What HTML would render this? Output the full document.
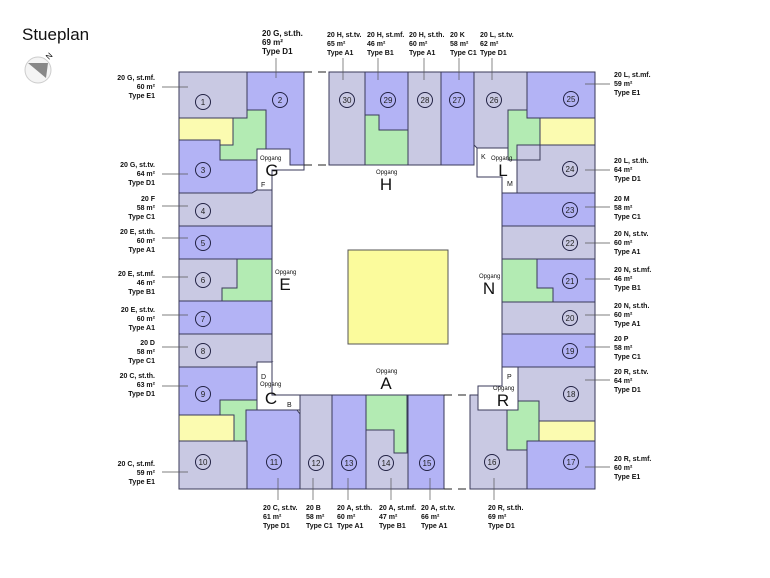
<!DOCTYPE html>
<html><head><meta charset="utf-8"><style>
html,body{margin:0;padding:0;background:#fff;width:770px;height:578px;overflow:hidden}
svg{display:block;font-family:"Liberation Sans",sans-serif}
.l{fill:#c9c9e3;stroke:#3a3a5a;stroke-width:1}
.b{fill:#b3b3f5;stroke:#3a3a5a;stroke-width:1}
.g{fill:#b3ebb3;stroke:#3a3a5a;stroke-width:1}
.y{fill:#fbfbb0;stroke:#3a3a5a;stroke-width:1}
.w{fill:#fff;stroke:#3a3a5a;stroke-width:1}
.t{font-size:7px;font-weight:bold;fill:#111}
.c text{font-size:8px;text-anchor:middle;fill:#222}
.ld{stroke:#555;stroke-width:.7}
.s{font-size:6px;fill:#111}
.big{font-size:17px;fill:#111;text-anchor:middle}
</style></head><body>
<svg width="770" height="578" viewBox="0 0 770 578">
<text x="22" y="40" font-size="17" fill="#111">Stueplan</text>
<circle cx="38" cy="70" r="13" fill="#f4f4f4" stroke="#ccc"/>
<polygon points="28,63 48,63 46,78" fill="#888"/>
<text x="49" y="60" font-size="8" transform="rotate(-45 49 60)">N</text>

<polygon class="l" points="179,72 247,72 247,118 179,118"/>
<polygon class="b" points="247,72 304,72 304,165 290,165 290,149 266,149 266,110 247,110 247,118"/>
<polygon class="y" points="179,118 233,118 233,145 179,145"/>
<polygon class="g" points="233,118 247,118 247,110 266,110 266,149 257,149 257,160 220,160 220,145 233,145"/>
<polygon class="b" points="179,140 220,140 220,160 257,160 257,190 252,193 179,193"/>
<polygon class="w" points="257,149 290,149 290,165 304,165 304,170 272,170 272,190 257,190"/>
<polygon class="l" points="179,193 252,193 257,190 272,190 272,226 179,226"/>
<rect class="b" x="179" y="226" width="93" height="33"/>
<rect class="l" x="179" y="259" width="93" height="42"/>
<polygon class="g" points="237,259 272,259 272,301 222,301 222,288 237,288"/>
<rect class="b" x="179" y="301" width="93" height="33"/>
<polygon class="l" points="179,334 272,334 272,362 265,367 179,367"/>
<polygon class="b" points="179,367 265,367 272,362 257,362 257,410 237,410 237,400 220,400 220,415 179,415"/>
<polygon class="w" points="257,362 272,362 272,395 300,395 300,410 257,410"/>
<polygon class="g" points="220,400 257,400 257,410 246,410 246,441 234,441 234,415 220,415"/>
<rect class="y" x="179" y="415" width="55" height="26"/>
<polygon class="b" points="246,410 297,410 300,414 300,489 247,489 247,441 246,441"/>
<rect class="l" x="179" y="441" width="68" height="48"/>
<polygon class="l" points="300,395 332,395 332,489 300,489"/>
<rect class="b" x="332" y="395" width="34" height="94"/>
<rect class="g" x="366" y="395" width="41" height="58"/>
<polygon class="l" points="366,430 394,430 394,453 408,453 408,489 366,489"/>
<rect class="b" x="408" y="395" width="36" height="94"/>
<polygon class="l" points="470,395 478,395 478,410 507,410 507,450 527,450 527,489 470,489"/>
<polygon class="w" points="478,386 478,410 518,410 518,367 502,367 502,386"/>
<polygon class="l" points="518,367 595,367 595,421 539,421 539,401 518,401"/>
<polygon class="g" points="518,401 539,401 539,441 527,441 527,450 507,450 507,410 518,410"/>
<rect class="y" x="539" y="421" width="56" height="20"/>
<rect class="b" x="527" y="441" width="68" height="48"/>
<polygon class="b" points="502,367 502,334 595,334 595,367 518,367"/>
<rect class="l" x="502" y="302" width="93" height="32"/>
<rect class="b" x="537" y="259" width="58" height="43"/>
<polygon class="g" points="502,259 537,259 537,288 553,288 553,302 502,302"/>
<rect class="l" x="502" y="226" width="93" height="33"/>
<polygon class="b" points="502,193 595,193 595,226 502,226"/>
<polygon class="l" points="517,140 540,140 540,145 595,145 595,193 517,193"/>
<polygon class="w" points="477,148 517,148 517,193 502,193 502,177 477,177"/>
<polygon class="l" points="474,72 527,72 527,118 508,118 508,160 517,160 517,148 477,148 474,145"/>
<polygon class="g" points="508,110 527,110 527,118 540,118 540,145 517,145 517,160 508,160"/>
<polygon class="b" points="527,72 595,72 595,118 527,118"/>
<rect class="y" x="540" y="118" width="55" height="27"/>
<polygon class="l" points="540,145 595,145 595,193 517,193 517,160 540,160"/>
<rect class="l" x="329" y="72" width="36" height="93"/>
<rect class="g" x="365" y="115" width="43" height="50"/>
<polygon class="b" points="365,72 408,72 408,130 379,130 379,115 365,115"/>
<rect class="l" x="408" y="72" width="33" height="93"/>
<rect class="b" x="441" y="72" width="33" height="93"/>
<g stroke="#222" stroke-dasharray="8,6"><line x1="304" y1="72" x2="329" y2="72"/><line x1="304" y1="165" x2="329" y2="165"/><line x1="444" y1="395" x2="470" y2="395"/><line x1="444" y1="489" x2="470" y2="489"/></g>
<rect x="348" y="250" width="100" height="94" fill="#fbfb9c" stroke="#555"/>

<g class="s"><text x="260" y="160">Opgang</text><text x="376" y="174">Opgang</text><text x="491" y="160">Opgang</text><text x="275" y="274">Opgang</text><text x="479" y="278">Opgang</text><text x="376" y="373">Opgang</text><text x="260" y="386">Opgang</text><text x="493" y="390">Opgang</text>
<text x="261" y="187" font-size="7">F</text><text x="481" y="159" font-size="7">K</text><text x="507" y="186" font-size="7">M</text><text x="261" y="379" font-size="7">D</text><text x="287" y="407" font-size="7">B</text><text x="507" y="379" font-size="7">P</text></g>
<g class="big"><text x="272" y="176">G</text><text x="386" y="190">H</text><text x="503" y="176">L</text><text x="285" y="290">E</text><text x="489" y="294">N</text><text x="386" y="389">A</text><text x="271" y="404">C</text><text x="503" y="406">R</text></g>

<g class="c">
<g stroke="#224" stroke-width="1" fill="none">
<circle cx="203" cy="102" r="7.5"/><circle cx="280" cy="100" r="7.5"/><circle cx="203" cy="170" r="7.5"/><circle cx="203" cy="211" r="7.5"/><circle cx="203" cy="243" r="7.5"/><circle cx="203" cy="280" r="7.5"/><circle cx="203" cy="319" r="7.5"/><circle cx="203" cy="351" r="7.5"/><circle cx="203" cy="394" r="7.5"/><circle cx="203" cy="462" r="7.5"/><circle cx="274" cy="462" r="7.5"/><circle cx="316" cy="463" r="7.5"/><circle cx="349" cy="463" r="7.5"/><circle cx="386" cy="463" r="7.5"/><circle cx="427" cy="463" r="7.5"/><circle cx="492" cy="462" r="7.5"/><circle cx="571" cy="462" r="7.5"/><circle cx="571" cy="394" r="7.5"/><circle cx="570" cy="351" r="7.5"/><circle cx="570" cy="318" r="7.5"/><circle cx="570" cy="281" r="7.5"/><circle cx="570" cy="243" r="7.5"/><circle cx="570" cy="210" r="7.5"/><circle cx="570" cy="169" r="7.5"/><circle cx="571" cy="99" r="7.5"/><circle cx="494" cy="100" r="7.5"/><circle cx="457" cy="100" r="7.5"/><circle cx="425" cy="100" r="7.5"/><circle cx="388" cy="100" r="7.5"/><circle cx="347" cy="100" r="7.5"/>
</g>
<text x="203" y="105">1</text><text x="280" y="103">2</text><text x="203" y="173">3</text><text x="203" y="214">4</text><text x="203" y="246">5</text><text x="203" y="283">6</text><text x="203" y="322">7</text><text x="203" y="354">8</text><text x="203" y="397">9</text><text x="203" y="465">10</text><text x="274" y="465">11</text><text x="316" y="466">12</text><text x="349" y="466">13</text><text x="386" y="466">14</text><text x="427" y="466">15</text><text x="492" y="465">16</text><text x="571" y="465">17</text><text x="571" y="397">18</text><text x="570" y="354">19</text><text x="570" y="321">20</text><text x="570" y="284">21</text><text x="570" y="246">22</text><text x="570" y="213">23</text><text x="570" y="172">24</text><text x="571" y="102">25</text><text x="494" y="103">26</text><text x="457" y="103">27</text><text x="425" y="103">28</text><text x="388" y="103">29</text><text x="347" y="103">30</text>
</g>

<g class="ld">
<line x1="162" y1="87" x2="188" y2="87"/><line x1="162" y1="174" x2="188" y2="174"/><line x1="162" y1="206" x2="188" y2="206"/><line x1="162" y1="238" x2="188" y2="238"/><line x1="162" y1="277" x2="188" y2="277"/><line x1="162" y1="315" x2="188" y2="315"/><line x1="162" y1="347" x2="188" y2="347"/><line x1="162" y1="386" x2="188" y2="386"/><line x1="162" y1="472" x2="188" y2="472"/>
<line x1="276" y1="58" x2="276" y2="78"/><line x1="343" y1="58" x2="343" y2="80"/><line x1="378" y1="58" x2="378" y2="80"/><line x1="424" y1="58" x2="424" y2="80"/><line x1="459" y1="58" x2="459" y2="80"/><line x1="492" y1="58" x2="492" y2="80"/>
<line x1="585" y1="84" x2="610" y2="84"/><line x1="585" y1="170" x2="610" y2="170"/><line x1="585" y1="207" x2="610" y2="207"/><line x1="585" y1="243" x2="610" y2="243"/><line x1="585" y1="279" x2="610" y2="279"/><line x1="585" y1="315" x2="610" y2="315"/><line x1="585" y1="347" x2="610" y2="347"/><line x1="585" y1="380" x2="610" y2="380"/><line x1="585" y1="467" x2="610" y2="467"/>
<line x1="278" y1="478" x2="278" y2="500"/><line x1="313" y1="478" x2="313" y2="500"/><line x1="348" y1="478" x2="348" y2="500"/><line x1="391" y1="478" x2="391" y2="500"/><line x1="430" y1="478" x2="430" y2="500"/><line x1="494" y1="478" x2="494" y2="500"/>
</g>

<g class="t" text-anchor="end">
<text x="155" y="80">20 G, st.mf.</text><text x="155" y="89">60 m²</text><text x="155" y="98">Type E1</text>
<text x="155" y="167">20 G, st.tv.</text><text x="155" y="176">64 m²</text><text x="155" y="185">Type D1</text>
<text x="155" y="201">20 F</text><text x="155" y="210">58 m²</text><text x="155" y="219">Type C1</text>
<text x="155" y="234">20 E, st.th.</text><text x="155" y="243">60 m²</text><text x="155" y="252">Type A1</text>
<text x="155" y="276">20 E, st.mf.</text><text x="155" y="285">46 m²</text><text x="155" y="294">Type B1</text>
<text x="155" y="312">20 E, st.tv.</text><text x="155" y="321">60 m²</text><text x="155" y="330">Type A1</text>
<text x="155" y="345">20 D</text><text x="155" y="354">58 m²</text><text x="155" y="363">Type C1</text>
<text x="155" y="378">20 C, st.th.</text><text x="155" y="387">63 m²</text><text x="155" y="396">Type D1</text>
<text x="155" y="466">20 C, st.mf.</text><text x="155" y="475">59 m²</text><text x="155" y="484">Type E1</text>
</g>
<g class="t">
<text x="262" y="36" font-size="8">20 G, st.th.</text><text x="262" y="45" font-size="8">69 m²</text><text x="262" y="54" font-size="8">Type D1</text>
<text x="327" y="37">20 H, st.tv.</text><text x="327" y="46">65 m²</text><text x="327" y="55">Type A1</text>
<text x="367" y="37">20 H, st.mf.</text><text x="367" y="46">46 m²</text><text x="367" y="55">Type B1</text>
<text x="409" y="37">20 H, st.th.</text><text x="409" y="46">60 m²</text><text x="409" y="55">Type A1</text>
<text x="450" y="37">20 K</text><text x="450" y="46">58 m²</text><text x="450" y="55">Type C1</text>
<text x="480" y="37">20 L, st.tv.</text><text x="480" y="46">62 m²</text><text x="480" y="55">Type D1</text>
<text x="614" y="77">20 L, st.mf.</text><text x="614" y="86">59 m²</text><text x="614" y="95">Type E1</text>
<text x="614" y="163">20 L, st.th.</text><text x="614" y="172">64 m²</text><text x="614" y="181">Type D1</text>
<text x="614" y="201">20 M</text><text x="614" y="210">58 m²</text><text x="614" y="219">Type C1</text>
<text x="614" y="236">20 N, st.tv.</text><text x="614" y="245">60 m²</text><text x="614" y="254">Type A1</text>
<text x="614" y="272">20 N, st.mf.</text><text x="614" y="281">46 m²</text><text x="614" y="290">Type B1</text>
<text x="614" y="308">20 N, st.th.</text><text x="614" y="317">60 m²</text><text x="614" y="326">Type A1</text>
<text x="614" y="341">20 P</text><text x="614" y="350">58 m²</text><text x="614" y="359">Type C1</text>
<text x="614" y="374">20 R, st.tv.</text><text x="614" y="383">64 m²</text><text x="614" y="392">Type D1</text>
<text x="614" y="461">20 R, st.mf.</text><text x="614" y="470">60 m²</text><text x="614" y="479">Type E1</text>
<text x="263" y="510">20 C, st.tv.</text><text x="263" y="519">61 m²</text><text x="263" y="528">Type D1</text>
<text x="306" y="510">20 B</text><text x="306" y="519">58 m²</text><text x="306" y="528">Type C1</text>
<text x="337" y="510">20 A, st.th.</text><text x="337" y="519">60 m²</text><text x="337" y="528">Type A1</text>
<text x="379" y="510">20 A, st.mf.</text><text x="379" y="519">47 m²</text><text x="379" y="528">Type B1</text>
<text x="421" y="510">20 A, st.tv.</text><text x="421" y="519">66 m²</text><text x="421" y="528">Type A1</text>
<text x="488" y="510">20 R, st.th.</text><text x="488" y="519">69 m²</text><text x="488" y="528">Type D1</text>
</g>
</svg>
</body></html>
